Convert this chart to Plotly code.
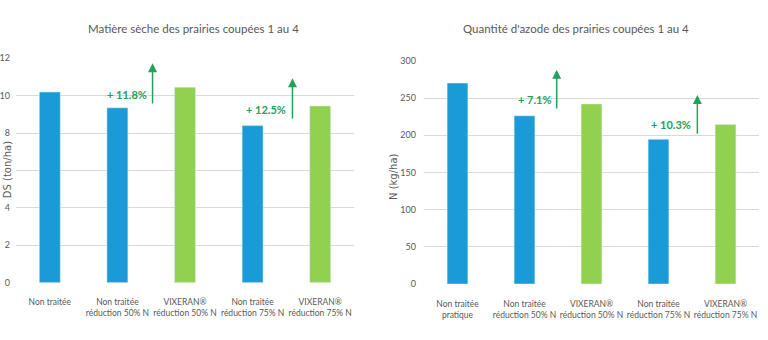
import plotly.graph_objects as go

# Data
cats_left = ["Non traitée", "Non traitée<br>réduction 50% N", "VIXERAN®<br>réduction 50% N",
             "Non traitée<br>réduction 75% N", "VIXERAN®<br>réduction 75% N"]
cats_right = ["Non traitée<br>pratique", "Non traitée<br>réduction 50% N", "VIXERAN®<br>réduction 50% N",
              "Non traitée<br>réduction 75% N", "VIXERAN®<br>réduction 75% N"]
ms_values = [10.2, 9.35, 10.45, 8.4, 9.45]
n_values = [270, 226, 242, 194.5, 214.5]
bar_colors = ["#1a9ad6", "#1a9ad6", "#92d050", "#1a9ad6", "#92d050"]
gain_left = ["+ 11.8%", "+ 12.5%"]
gain_right = ["+ 7.1%", "+ 10.3%"]
# arrow positions (category index, start value, end value)
arrows_left = [(1.52, 9.5, 11.73), (3.59, 8.7, 10.93)]
arrows_right = [(1.48, 234, 288), (3.58, 200, 254)]

FONT = "Lato, Roboto, sans-serif"
GREY = "#595959"
ARROW_GREEN = "#23a05a"

fig = go.Figure()
fig.add_trace(go.Bar(x=list(range(5)), y=ms_values, marker_color=bar_colors,
                     xaxis="x", yaxis="y", showlegend=False))
fig.add_trace(go.Bar(x=list(range(5)), y=n_values, marker_color=bar_colors,
                     xaxis="x2", yaxis="y2", showlegend=False))

axis_common = dict(showline=False, zeroline=False, ticks="", automargin=False)
xfont = dict(size=8.5, color=GREY, family=FONT)
yfont = dict(size=9, color=GREY, family=FONT)
fig.update_layout(
    width=768, height=340, margin=dict(l=0, r=0, t=0, b=0, autoexpand=False),
    paper_bgcolor="white", plot_bgcolor="white",
    bargap=0.69,
    font=dict(family=FONT, color=GREY, size=10),
    xaxis=dict(domain=[16/768, 354/768], range=[-0.5, 4.5], tickmode="array",
               tickvals=list(range(5)), ticktext=cats_left, anchor="y", tickangle=0,
               tickfont=xfont, showgrid=False, ticklabelstandoff=13, **axis_common),
    yaxis=dict(domain=[1-282.7/340, 1-58.3/340], range=[0, 12], dtick=2,
               gridcolor="#d9d9d9", gridwidth=1, anchor="x",
               tickfont=yfont, ticklabelstandoff=5, **axis_common),
    xaxis2=dict(domain=[424/768, 759/768], range=[-0.5, 4.5], tickmode="array",
                tickvals=list(range(5)), ticktext=cats_right, anchor="y2", tickangle=0,
                tickfont=xfont, showgrid=False, ticklabelstandoff=13, **axis_common),
    yaxis2=dict(domain=[1-284/340, 1-60.8/340], range=[0, 300], dtick=50,
                gridcolor="#d9d9d9", gridwidth=1, anchor="x2",
                tickfont=yfont, ticklabelstandoff=7, **axis_common),
)

annotations = [
    dict(text="Matière sèche des prairies coupées 1 au 4", x=(193-16)/338, y=1-28/340,
         xref="x domain", yref="paper", showarrow=False, xanchor="center", yanchor="middle",
         font=dict(size=11.5, color=GREY)),
    dict(text="Quantité d'azode des prairies coupées 1 au 4", x=(576-424)/335, y=1-28/340,
         xref="x2 domain", yref="paper", showarrow=False, xanchor="center", yanchor="middle",
         font=dict(size=11.5, color=GREY)),
    dict(text="DS (ton/ha)", x=-8.5/338, y=(283-170)/224.4, xref="x domain", yref="y domain",
         showarrow=False, textangle=-90, xanchor="center", yanchor="middle",
         bgcolor="white", borderpad=2,
         font=dict(size=10, color=GREY, family="DejaVu Sans, Verdana, sans-serif")),
    dict(text="N (kg/ha)", x=-31/335, y=(284-177)/223.2, xref="x2 domain", yref="y2 domain",
         showarrow=False, textangle=-90, xanchor="center", yanchor="middle",
         font=dict(size=10, color=GREY, family="DejaVu Sans, Verdana, sans-serif")),
]

for (xi, y0, y1), label in zip(arrows_left, gain_left):
    annotations.append(dict(x=xi, y=y1, ax=xi, ay=y0, xref="x", yref="y", axref="x", ayref="y",
                            showarrow=True, arrowhead=2, arrowsize=1.2, arrowwidth=1.5,
                            arrowcolor=ARROW_GREEN, text=""))
    annotations.append(dict(x=xi - 0.06, y=(y0 + y1) / 2 - 0.55, xref="x", yref="y",
                            xanchor="right", yanchor="middle", showarrow=False, text="<b>" + label + "</b>",
                            font=dict(size=11, color=ARROW_GREEN)))
for (xi, y0, y1), label in zip(arrows_right, gain_right):
    annotations.append(dict(x=xi, y=y1, ax=xi, ay=y0, xref="x2", yref="y2", axref="x2", ayref="y2",
                            showarrow=True, arrowhead=2, arrowsize=1.2, arrowwidth=1.5,
                            arrowcolor=ARROW_GREEN, text=""))
    annotations.append(dict(x=xi - 0.06, y=(y0 + y1) / 2 - 13, xref="x2", yref="y2",
                            xanchor="right", yanchor="middle", showarrow=False, text="<b>" + label + "</b>",
                            font=dict(size=11, color=ARROW_GREEN)))

fig.update_layout(annotations=annotations)
fig.write_html("out.html")
